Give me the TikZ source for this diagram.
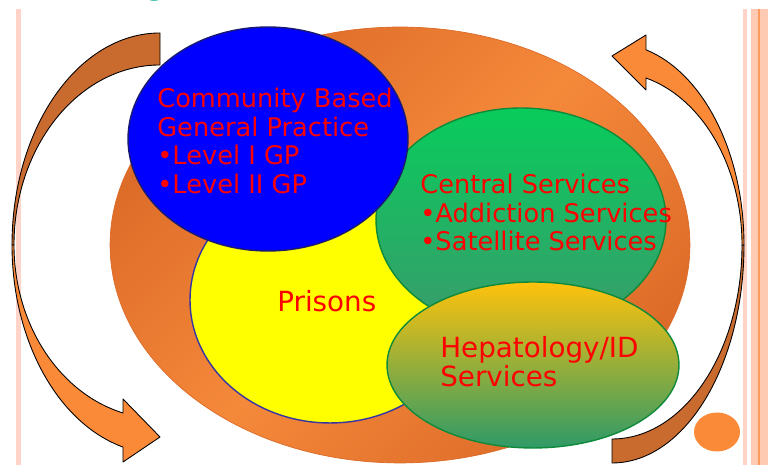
\documentclass[tikz,border=0pt]{standalone}
\usepackage{fontspec}
\newfontfamily\diagfont{DejaVu Sans}
\usetikzlibrary{shapes.geometric}
\definecolor{ringorange}{HTML}{F5893A}
\definecolor{ringdark}{HTML}{DC6A28}
\definecolor{gpblue}{HTML}{0000FF}
\definecolor{gpnavy}{HTML}{1A1A70}
\definecolor{prisonyellow}{HTML}{FFFF00}
\definecolor{prisonedge}{HTML}{3535A5}
\definecolor{centraltop}{HTML}{08CC5C}
\definecolor{centralbottom}{HTML}{3A9A6C}
\definecolor{centraledge}{HTML}{0E8A3A}
\definecolor{heptop}{HTML}{FFC20C}
\definecolor{hepbottom}{HTML}{2E9A68}
\definecolor{arrowlight}{HTML}{FB8A38}
\definecolor{arrowdark}{HTML}{C96A2E}
\definecolor{stripepink}{HTML}{FFD3C8}
\definecolor{stripepeach}{HTML}{FFCAB2}
\definecolor{stripeorange}{HTML}{FF9A5C}
\definecolor{titleteal}{HTML}{4FC8B8}

\begin{document}
\begin{tikzpicture}[x=0.02cm,y=0.02cm,
	blob/.style={ellipse,inner sep=0pt},
	lbl/.style={text=red,align=left,inner sep=0pt,anchor=base west},
	band/.style={draw=black,line width=0.5pt,line join=round}]
	\useasboundingbox (0,0) rectangle (768,465);
	% page stripes
	\fill[titleteal] (154,467) ellipse[x radius=6,y radius=3];
	\draw[stripepink,line width=2.5pt] (18.5,456) -- (18.5,0);
	\fill[stripepink] (743,0) rectangle (747,456);
	\fill[stripepeach] (751,0) rectangle (768,456);
	\fill[stripeorange] (758,0) rectangle (760,456);
	% left curved arrow
	\draw[band,fill=arrowdark] (160,432) arc[start angle=90,end angle=180,x radius=148,y radius=212] -- (14,220) arc[start angle=180,end angle=90,x radius=146,y radius=180] -- cycle;
	\draw[band,fill=arrowlight] (12,220) arc[start angle=180,end angle=255.52,x radius=148,y radius=208.7] -- (123,3) -- (160,28) -- (123,66) -- (123,52) arc[start angle=255.32,end angle=180,x radius=146,y radius=173.7] -- cycle;
	% right curved arrow
	\draw[band,fill=arrowdark] (744,220) arc[start angle=0,end angle=-90,x radius=132,y radius=218] -- (612,26) arc[start angle=-90,end angle=0,x radius=130,y radius=194] -- cycle;
	\draw[band,fill=arrowlight] (742,220) arc[start angle=0,end angle=74.84,x radius=130,y radius=173] -- (646,375) -- (612,409) -- (646,430) -- (646,415.2) arc[start angle=75.07,end angle=0,x radius=132,y radius=202] -- cycle;
	% ellipses
	\node[blob,minimum width=11.6cm,minimum height=8.72cm,draw=ringdark,line width=0.4pt,top color=ringdark,bottom color=ringdark,middle color=ringorange,shading angle=45] (ring) at (400,220) {};
	\node[blob,minimum width=5.6cm,minimum height=4.92cm,fill=prisonyellow,draw=prisonedge,line width=0.8pt] (prisons) at (330,165) {};
	\node[blob,minimum width=5.8cm,minimum height=4.48cm,top color=centraltop,bottom color=centralbottom,draw=centraledge,line width=0.8pt] (central) at (521,245) {};
	\node[blob,minimum width=5.6cm,minimum height=4.48cm,fill=gpblue,draw=gpnavy,line width=0.8pt] (gp) at (268,326) {};
	\node[blob,minimum width=5.84cm,minimum height=3.32cm,top color=heptop,bottom color=hepbottom,draw=centraledge,line width=0.8pt] (hep) at (533,100) {};
	\node[blob,minimum width=0.92cm,minimum height=0.78cm,fill=arrowlight] (dot) at (717,33) {};
	% labels (base = last line)
	\node[lbl,font=\diagfont\fontsize{14.6}{16.5}\selectfont] (gptext) at (157,271) {Community Based\\General Practice\\•Level I GP\\•Level II GP};
	\node[lbl,font=\diagfont\fontsize{14.6}{16.5}\selectfont] (centraltext) at (420,214) {Central Services\\•Addiction Services\\•Satellite Services};
	\node[lbl,font=\diagfont\fontsize{15.8}{17}\selectfont] (prisontext) at (277,153) {Prisons};
	\node[lbl,font=\diagfont\fontsize{15.8}{17}\selectfont] (heptext) at (440,78) {Hepatology/ID\\Services};
\end{tikzpicture}
\end{document}
